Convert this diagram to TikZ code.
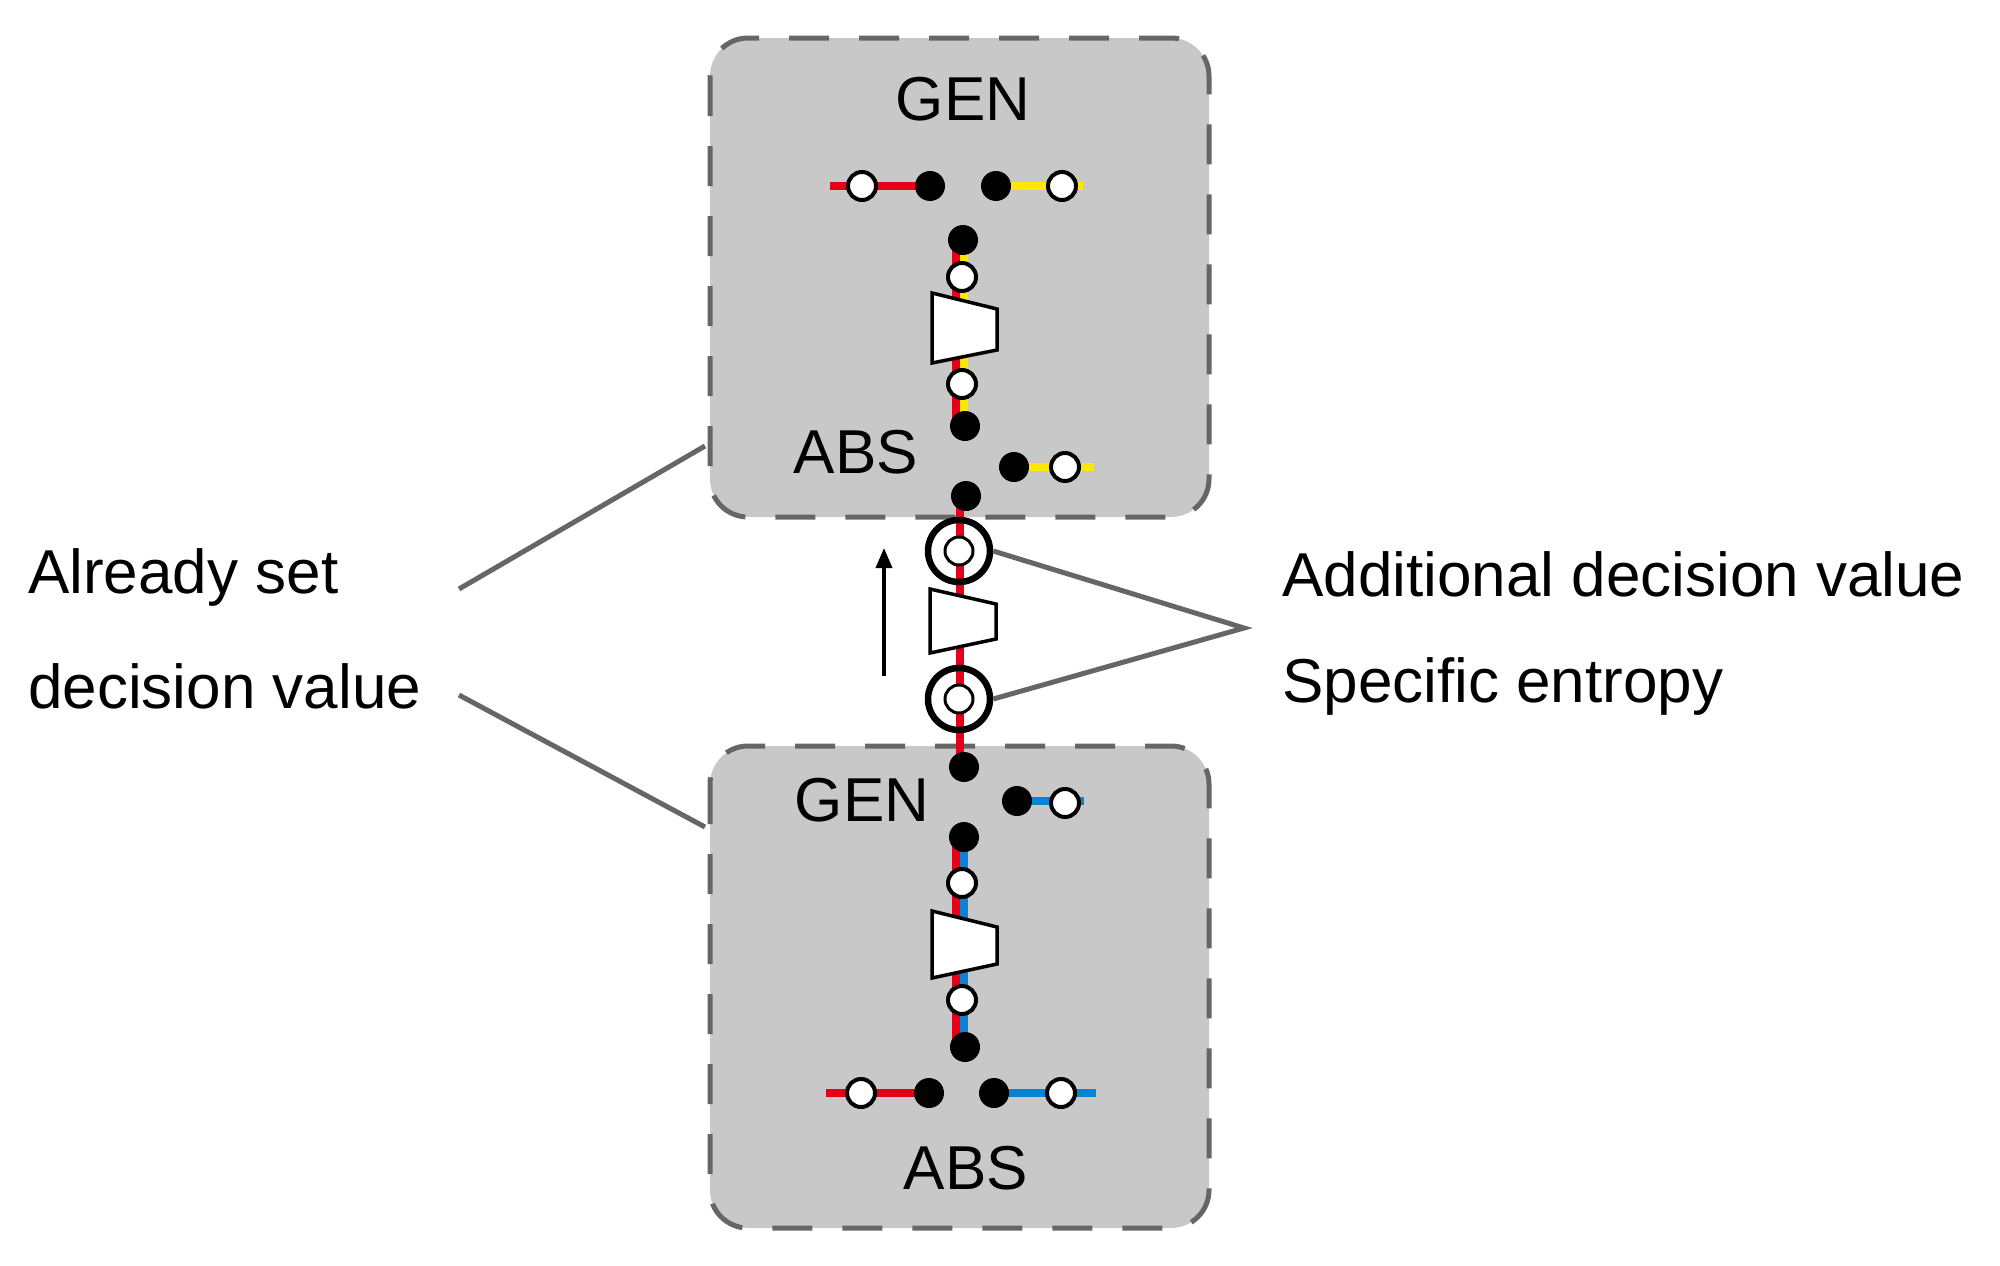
\documentclass[tikz,border=0pt]{standalone}
\usepackage{fontspec}
\setmainfont{Liberation Sans}
\usetikzlibrary{arrows.meta}
\definecolor{pred}{HTML}{E5001A}
\definecolor{pyel}{HTML}{FFE800}
\definecolor{pblu}{HTML}{0A84D0}
\definecolor{boxg}{HTML}{C8C8C8}
\definecolor{dashg}{HTML}{666666}
\begin{document}
\begin{tikzpicture}[x=1pt,y=-1pt,
  box/.style={fill=boxg,draw=dashg,line width=5pt,dash pattern=on 40pt off 30pt,rounded corners=38pt},
  blk/.style={circle,fill=black,inner sep=0pt,minimum size=30pt},
  wht/.style={circle,fill=white,draw=black,line width=4pt,inner sep=0pt,minimum size=28pt},
  ring/.style={circle,draw=black,line width=6.5pt,inner sep=0pt,minimum size=62pt},
  pipe/.style={line width=8pt},
  lead/.style={draw=dashg,line width=5pt},
  lbl/.style={font=\fontsize{62}{74}\selectfont,inner sep=0pt},
  trap/.style={draw=black,line width=3.5pt,fill=white}]
\useasboundingbox (0,0) rectangle (2000,1266);
% boxes
\draw[box] (710,38) rectangle (1209,517);
\draw[box] (710,746) rectangle (1209,1228);
% pipes top box
\draw[pipe,pred] (830,186) -- (930,186);
\draw[pipe,pyel] (996,186) -- (1083,186);
\draw[pipe,pred] (956,240) -- (956,426);
\draw[pipe,pyel] (964,240) -- (964,426);
\draw[pipe,pyel] (1014,467) -- (1094,467);
% connecting pipe
\draw[pipe,pred] (960,496) -- (960,767);
% pipes bottom box
\draw[pipe,pblu] (1017,801) -- (1084,801);
\draw[pipe,pred] (956,837) -- (956,1047);
\draw[pipe,pblu] (964,837) -- (964,1047);
\draw[pipe,pred] (826,1093) -- (929,1093);
\draw[pipe,pblu] (994,1093) -- (1096,1093);
% trapezoids
\draw[trap] (932,293) -- (997,309) -- (997,350) -- (932,363) -- cycle;
\draw[trap] (930,589) -- (996,604) -- (996,639) -- (930,653) -- cycle;
\draw[trap] (932,911) -- (997,927) -- (997,964) -- (932,978) -- cycle;
% top box nodes
\node[lbl] (gen1) at (963,99) {GEN};
\node[wht] (t1) at (862,186) {};
\node[blk] (t2) at (930,186) {};
\node[blk] (t3) at (996,186) {};
\node[wht] (t4) at (1062,186) {};
\node[blk] (t5) at (963,240) {};
\node[wht] (t6) at (962,277) {};
\node[wht] (t7) at (962,384) {};
\node[blk] (t8) at (965,426) {};
\node[lbl] (abs1) at (856,452) {ABS};
\node[blk] (t9) at (1014,467) {};
\node[wht] (t10) at (1065,467) {};
\node[blk] (t11) at (966,496) {};
% between
\node[ring] (r1) at (959,551) {};
\node[wht,line width=3pt] (s1) at (959,551) {};
\node[ring] (r2) at (959,699) {};
\node[wht,line width=3pt] (s2) at (959,699) {};
\coordinate (a0) at (884,676);
\coordinate (a1) at (884,548);
\draw[-{Triangle[length=20pt,width=16pt]},line width=3.5pt] (a0) -- (a1);
% bottom box nodes
\node[blk] (b1) at (964,767) {};
\node[lbl] (gen2) at (862,800) {GEN};
\node[blk] (b2) at (1017,801) {};
\node[wht] (b3) at (1065,803) {};
\node[blk] (b4) at (964,837) {};
\node[wht] (b5) at (962,883) {};
\node[wht] (b6) at (962,1000) {};
\node[blk] (b7) at (965,1047) {};
\node[wht] (b8) at (861,1093) {};
\node[blk] (b9) at (929,1093) {};
\node[blk] (b10) at (994,1093) {};
\node[wht] (b11) at (1061,1093) {};
\node[lbl] (abs2) at (966,1168) {ABS};
% labels and leaders
\node[lbl,anchor=west] (add) at (1282,574) {Additional decision value};
\node[lbl,anchor=west] (spe) at (1282,686) {Specific entropy};
\node[lbl,anchor=west] (alr) at (28,577) {Already set};
\node[lbl,anchor=west] (dec) at (28,686) {decision value};
\coordinate (rj) at (1244,628);
\draw[lead] (r1.east) -- (rj) -- (r2.east);
\coordinate (l1) at (459,589);
\coordinate (l1e) at (705,446);
\coordinate (l2) at (459,695);
\coordinate (l2e) at (705,827);
\draw[lead] (l1) -- (l1e);
\draw[lead] (l2) -- (l2e);
\end{tikzpicture}
\end{document}
